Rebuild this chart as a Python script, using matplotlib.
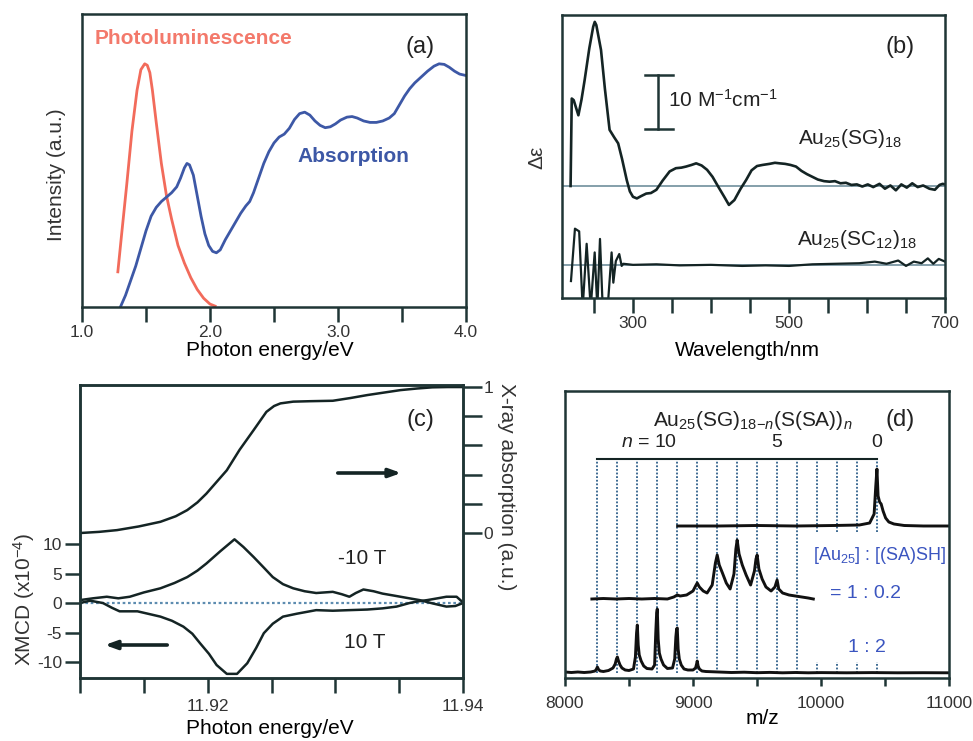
import matplotlib
matplotlib.use("Agg")
import matplotlib.pyplot as plt

plt.rcParams['font.family'] = ['Liberation Sans', 'DejaVu Sans']
plt.rcParams['mathtext.fontset'] = 'custom'
plt.rcParams['mathtext.rm'] = 'Liberation Sans'
plt.rcParams['mathtext.it'] = 'Liberation Sans:italic'
plt.rcParams['mathtext.bf'] = 'Liberation Sans:bold'

NARROW = ['Liberation Sans', 'DejaVu Sans']

# ---------------- Panel (a) data ----------------
pl_ev = [1.28, 1.31, 1.35, 1.39, 1.43, 1.46, 1.49, 1.51, 1.53, 1.55, 1.58, 1.62, 1.66, 1.70, 1.75, 1.80,
         1.85, 1.90, 1.95, 2.00, 2.04]
pl_int = [0.12, 0.25, 0.42, 0.60, 0.74, 0.81, 0.83, 0.825, 0.80, 0.74, 0.63, 0.49, 0.38, 0.30, 0.21, 0.15,
          0.10, 0.06, 0.03, 0.01, 0.003]

abs_ev = [1.30, 1.34, 1.38, 1.42, 1.46, 1.50, 1.54, 1.58, 1.62, 1.66, 1.70, 1.74, 1.77, 1.80, 1.82, 1.84,
          1.87, 1.90, 1.93, 1.96, 1.99, 2.02, 2.05, 2.08, 2.12, 2.16, 2.20, 2.24, 2.28, 2.31, 2.34, 2.38,
          2.42, 2.46, 2.50, 2.54, 2.58, 2.62, 2.66, 2.70, 2.74, 2.78, 2.82, 2.86, 2.90, 2.94, 2.98, 3.02,
          3.07, 3.11, 3.15, 3.20, 3.25, 3.30, 3.35, 3.40, 3.44, 3.48, 3.52, 3.56, 3.60, 3.65, 3.70, 3.75,
          3.79, 3.83, 3.87, 3.91, 3.95, 4.00]
abs_int = [0.00, 0.04, 0.09, 0.14, 0.20, 0.26, 0.31, 0.34, 0.36, 0.375, 0.39, 0.41, 0.44, 0.475, 0.49, 0.485,
           0.45, 0.38, 0.31, 0.25, 0.21, 0.19, 0.185, 0.195, 0.23, 0.26, 0.29, 0.32, 0.345, 0.36, 0.39, 0.44,
           0.49, 0.53, 0.56, 0.58, 0.59, 0.61, 0.64, 0.66, 0.665, 0.655, 0.635, 0.62, 0.612, 0.615, 0.625, 0.638,
           0.648, 0.65, 0.645, 0.635, 0.63, 0.63, 0.635, 0.645, 0.66, 0.69, 0.72, 0.745, 0.765, 0.785, 0.805, 0.822,
           0.83, 0.828, 0.818, 0.805, 0.795, 0.79]

# ---------------- Panel (b) data ----------------
sg_nm = [220, 221.5, 224, 227, 230, 234, 238, 244, 249, 251, 253, 256, 259, 264, 270, 276, 281, 286, 292, 296, 300,
         305, 310, 317, 323, 330, 338, 347, 355, 362, 368, 375, 381, 388, 395, 402, 410, 417, 423, 430, 438,
         445, 452, 459, 466, 475, 482, 488, 495, 502, 509, 516, 523, 530, 537, 545, 552, 559, 566, 573, 580,
         587, 594, 601, 608, 616, 623, 630, 637, 644, 651, 658, 665, 672, 680, 687, 693, 697, 700]
sg_de = [0.0, 16.2, 15.9, 14.5, 13.1, 16.0, 19.6, 25.5, 29.5, 30.4, 29.8, 27.5, 25.2, 18.0, 10.4, 9.0, 7.9, 5.0,
         1.1, -1.0, -2.0, -2.3, -1.9, -1.4, -1.3, -0.7, 1.0, 2.7, 3.3, 3.4, 3.6, 3.9, 4.2, 3.8, 3.0, 1.7, -0.3,
         -2.0, -3.5, -2.6, -0.5, 1.1, 2.9, 3.7, 3.9, 4.1, 4.3, 4.2, 4.1, 3.9, 3.6, 2.8, 2.2, 1.7, 1.2, 0.9, 0.8,
         0.9, 0.5, 0.6, 0.2, 0.3, -0.1, 0.3, -0.2, 0.4, -0.5, 0.1, -0.8, 0.3, -0.3, 0.5, -0.2, 0.1, -0.5, -0.7,
         0.2, 0.4, 0.3]

sc_nm = [220.5, 225.6, 231, 235.5, 240.6, 245.8, 250.9, 254.3, 257.7, 261.2, 267.5, 272.6, 274.8, 278, 282.4, 285.5,
         287.6, 300, 330, 360, 400, 440, 470, 500, 530, 560, 590, 610, 625, 640, 650, 660, 670, 678, 685, 692, 700]
sc_de = [-3.0, 6.7, 6.2, -8.0, 3.9, -8.0, 2.3, -8.0, 4.8, -8.0, -8.0, 2.3, -3.3, 0.7, 2.0, -0.2,
         0.2, 0.0, 0.1, -0.1, 0.0, -0.2, -0.1, -0.2, 0.1, 0.2, 0.3, 0.6, 0.2, 0.8, -0.2, 0.6, 0.3, 1.2, 0.2, 1.1, 0.6]

# ---------------- Panel (c) data ----------------
xmcd_m10_ev = [11.9100, 11.9110, 11.9121, 11.9130, 11.9139, 11.9150, 11.9163, 11.9174, 11.9184, 11.9192, 11.9199,
               11.9210, 11.9221, 11.9228, 11.9236, 11.9244, 11.9251, 11.9259, 11.9267, 11.9276, 11.9285, 11.9298,
               11.9305, 11.9311, 11.9316, 11.9322, 11.9330, 11.9337, 11.9345, 11.9351, 11.9358, 11.9366, 11.9376,
               11.9387, 11.9394, 11.9400]
xmcd_m10 = [0.5, 0.8, 1.07, 0.8, 1.07, 1.8, 2.5, 3.4, 4.4, 5.5, 6.7,
            8.8, 10.8, 9.5, 7.8, 6.0, 4.4, 3.2, 2.5, 2.0, 1.7, 1.9,
            1.5, 1.07, 1.7, 2.3, 2.0, 1.6, 1.3, 1.07, 0.8, 0.5, -0.05,
            -0.6, -0.5, 0.0]

xmcd_p10_ev = [11.9100, 11.9108, 11.9118, 11.9125, 11.9131, 11.9138, 11.9145, 11.9155, 11.9163, 11.9172, 11.9181,
               11.9188, 11.9194, 11.9201, 11.9207, 11.9215, 11.9223, 11.9231, 11.9238, 11.9244, 11.9251, 11.9259,
               11.9270, 11.9285, 11.9298, 11.9311, 11.9325, 11.9337, 11.9348, 11.9358, 11.9365, 11.9372, 11.9380,
               11.9387, 11.9395, 11.9400]
xmcd_p10 = [0.0, 0.4, 0.0, -0.8, -1.4, -1.4, -1.4, -1.9, -2.3, -3.0, -4.0,
            -5.2, -6.8, -8.6, -10.5, -12.0, -12.0, -10.2, -7.6, -5.1, -3.5, -2.3,
            -1.8, -1.2, -1.3, -1.2, -1.1, -0.9, -0.6, 0.0, 0.3, 0.5, 0.8,
            1.07, 1.07, 0.1]

xas_ev = [11.9100, 11.9115, 11.9129, 11.9146, 11.9163, 11.9175, 11.9184, 11.9192, 11.9199, 11.9207, 11.9215,
          11.9225, 11.9236, 11.9246, 11.9252, 11.9257, 11.9267, 11.9280, 11.9298, 11.9312, 11.9325, 11.9338,
          11.9351, 11.9364, 11.9376, 11.9388, 11.9400]
xas = [0.0, 0.008, 0.02, 0.045, 0.077, 0.115, 0.157, 0.21, 0.27, 0.35, 0.43,
       0.57, 0.705, 0.83, 0.87, 0.888, 0.9, 0.903, 0.906, 0.925, 0.945, 0.962,
       0.979, 0.99, 0.998, 1.0, 1.0]

# ---------------- Panel (d) data ----------------
n_labels = ['$n$ = 10', '5', '0']
n_label_values = [10, 5, 0]
n_values = list(range(0, 15))
mz_n0 = 10437
mz_step = 156

bot_mz = [8000, 8050, 8100, 8150, 8200, 8235, 8246, 8253, 8262, 8275, 8300, 8340, 8375, 8392, 8402, 8409, 8418,
          8430, 8445, 8470, 8500, 8535, 8550, 8559, 8565, 8572, 8580, 8595, 8615, 8640, 8680, 8700, 8709,
          8716, 8721, 8728, 8737, 8750, 8770, 8800, 8840, 8857, 8866, 8872, 8877, 8884, 8893, 8908, 8930,
          8960, 9000, 9020, 9028, 9033, 9040, 9050, 9070, 9100, 9200, 9300, 9400, 9500, 9600, 9700, 9800,
          9900, 10000, 10200, 10400, 10600, 10800, 11000]
bot_int = [1.0, 0.5, 1.0, 0.5, 1.0, 2.0, 4.0, 6.0, 3.5, 2.0, 1.5, 2.5, 5.0, 9.0, 14.0, 16.0, 12.0,
           8.0, 5.0, 3.0, 2.5, 4.0, 16.0, 40.0, 48.0, 28.0, 18.0, 12.0, 7.0, 4.5, 4.0, 8.0, 40.0,
           60.0, 64.0, 34.0, 20.0, 14.0, 8.0, 4.5, 5.0, 14.0, 36.0, 44.0, 45.0, 24.0, 14.0, 8.0, 4.0,
           3.0, 3.0, 5.0, 9.0, 12.0, 7.0, 4.0, 2.0, 1.5, 1.0, 0.5, 0.8, 0.3, 0.6, 0.2, 0.5,
           0.2, 0.4, 0.2, 0.4, 0.2, 0.3, 0.2]

mid_mz = [8210, 8300, 8400, 8500, 8600, 8700, 8800, 8850, 8877, 8900, 8950, 9000, 9020, 9033, 9050, 9080, 9110,
          9150, 9175, 9189, 9205, 9230, 9260, 9290, 9320, 9335, 9345, 9360, 9385, 9415, 9450, 9480, 9492,
          9501, 9515, 9540, 9570, 9610, 9640, 9657, 9670, 9700, 9750, 9800, 9850, 9900, 9940]
mid_int = [0.0, 0.5, 0.0, 0.5, 0.0, 0.5, 0.0, 2.0, 4.0, 3.0, 4.0, 8.0, 13.0, 16.0, 12.0, 8.0, 6.0,
           14.0, 36.0, 44.0, 34.0, 26.0, 16.0, 10.0, 25.0, 50.0, 59.0, 45.0, 34.0, 24.0, 14.0, 28.0, 40.0,
           44.0, 30.0, 20.0, 12.0, 8.0, 12.0, 19.0, 10.0, 6.0, 4.0, 3.0, 2.0, 1.0, 0.0]

top_mz = [8880, 9200, 9500, 9800, 10100, 10300, 10380, 10415, 10428, 10437, 10446, 10458, 10470, 10485, 10505,
          10530, 10570, 10650, 10800, 11000]
top_int = [0.0, 0.0, 0.5, 0.0, 0.5, 1.0, 3.0, 12.0, 40.0, 57.0, 30.0, 24.0, 22.0, 15.0, 8.0, 4.0, 2.0, 0.5, 0.0, 0.0]

# ---------------- figure ----------------
W, H = 973, 741
fig = plt.figure(figsize=(W / 100, H / 100), dpi=100)


def ax_rect(l, t, r, b):
    return [l / W, 1 - b / H, (r - l) / W, (b - t) / H]


def fpt(x, y):
    return (x / W, 1 - y / H)


SPINE = '#1f3535'
LINE = '#142424'


def style_axes(ax):
    for s in ax.spines.values():
        s.set_color(SPINE)
        s.set_linewidth(1.8)
    ax.tick_params(colors=SPINE, width=1.8, length=11, direction='out', labelsize=12.5,
                   labelcolor='#333333', pad=2)


# ---- (a)
ax_a = fig.add_axes(ax_rect(82, 14, 466, 307))
ax_a.plot(pl_ev, pl_int, color='#f26b5b', lw=2.0, solid_joinstyle='round')
ax_a.plot(abs_ev, abs_int, color='#3d58a6', lw=2.0, solid_joinstyle='round')
ax_a.set_xlim(1.0, 4.0)
ax_a.set_ylim(0, 1)
ax_a.set_xticks([1.0, 1.5, 2.0, 2.5, 3.0, 3.5, 4.0])
ax_a.set_xticklabels(['1.0', '', '2.0', '', '3.0', '', '4.0'])
ax_a.set_yticks([])
style_axes(ax_a)
fig.text(*fpt(270, 350), 'Photon energy/eV', ha='center', va='center', fontsize=15)
fig.text(*fpt(57, 175), 'Intensity (a.u.)', ha='center', va='center', rotation=90, fontsize=15,
         color='#333333')
fig.text(*fpt(95, 38), 'Photoluminescence', ha='left', va='center', fontsize=15, color='#f26b5b',
         family=NARROW, fontweight='bold', alpha=0.9)
fig.text(*fpt(297, 157), 'Absorption', ha='left', va='center', fontsize=15, color='#3d58a6',
         family=NARROW, fontweight='bold')
fig.text(*fpt(420, 47), '(a)', ha='center', va='center', fontsize=17, color='#222222')

# ---- (b)
ax_b = fig.add_axes(ax_rect(562, 15, 945, 298))
sg_off = 0.0
sc_off = -14.6
ax_b.axhline(sg_off, color='#6f8f9c', lw=1.2)
ax_b.axhline(sc_off, color='#6f8f9c', lw=1.2)
ax_b.plot(sg_nm, [v + sg_off for v in sg_de], color=LINE, lw=1.9, solid_joinstyle='round')
ax_b.plot(sc_nm, [v + sc_off for v in sc_de], color=LINE, lw=1.6)
ax_b.set_xlim(209, 700)
ax_b.set_ylim(-20.74, 31.67)
ax_b.set_xticks(list(range(250, 701, 50)))
ax_b.set_xticklabels(['300' if t == 300 else '500' if t == 500 else '700' if t == 700 else ''
                      for t in range(250, 701, 50)])
ax_b.set_yticks([])
style_axes(ax_b)
bar_x = 300 + (658 - 633) / 0.78
ax_b.plot([bar_x, bar_x], [10.56, 20.56], color=SPINE, lw=1.8)
ax_b.plot([bar_x - 17, bar_x + 19], [20.56, 20.56], color=SPINE, lw=1.8)
ax_b.plot([bar_x - 17, bar_x + 19], [10.56, 10.56], color=SPINE, lw=1.8)
fig.text(*fpt(668, 100), '10 M$^{\\mathregular{-1}}$cm$^{\\mathregular{-1}}$', ha='left', va='center',
         fontsize=15, color='#222222')
fig.text(*fpt(850, 139), 'Au$_{25}$(SG)$_{18}$', ha='center', va='center', fontsize=15, color='#222222')
fig.text(*fpt(857, 239), 'Au$_{25}$(SC$_{12}$)$_{18}$', ha='center', va='center', fontsize=15,
         color='#222222')
fig.text(*fpt(900, 47), '(b)', ha='center', va='center', fontsize=17, color='#222222')
fig.text(*fpt(747, 350), 'Wavelength/nm', ha='center', va='center', fontsize=15)
fig.text(*fpt(537, 157), 'Δε', ha='center', va='center', rotation=90, fontsize=15, color='#333333')

# ---- (c)
ax_c = fig.add_axes(ax_rect(80, 385, 463, 678))
ax_c.axhline(0, color='#5d8cb0', lw=1.6, ls=(0, (1.2, 1.2)))
ax_c.plot(xmcd_m10_ev, xmcd_m10, color=LINE, lw=1.8)
ax_c.plot(xmcd_p10_ev, xmcd_p10, color=LINE, lw=1.8)
ax_c.set_xlim(11.910, 11.940)
ax_c.set_ylim(-12.7, 36.95)
ax_c.set_xticks([11.910, 11.915, 11.920, 11.925, 11.930, 11.935, 11.940])
ax_c.set_xticklabels(['', '', '11.92', '', '', '', '11.94'])
ax_c.set_yticks([-10, -5, 0, 5, 10])
ax_c.set_yticklabels(['-10', '-5', '0', '5', '10'])
style_axes(ax_c)
ax_c.tick_params(axis='x', pad=4)
ax_c2 = ax_c.twinx()
ax_c2.plot(xas_ev, xas, color=LINE, lw=1.8)
ax_c2.set_ylim(-0.993, 1.014)
ax_c2.set_yticks([0, 0.2, 0.4, 0.6, 0.8, 1.0])
ax_c2.set_yticklabels(['0', '', '', '', '', '1'])
style_axes(ax_c2)
ax_c2.tick_params(axis='y', length=14, pad=1)
fig.text(*fpt(270, 728), 'Photon energy/eV', ha='center', va='center', fontsize=15)
fig.text(*fpt(24, 600), 'XMCD (x10$^{\\mathregular{-4}}$)', ha='center', va='center', rotation=90,
         fontsize=15, color='#333333')
fig.text(*fpt(507, 487), 'X-ray absorption (a.u.)', ha='center', va='center', rotation=270,
         fontsize=15, color='#333333')
fig.text(*fpt(420, 420), '(c)', ha='center', va='center', fontsize=17, color='#222222')
fig.text(*fpt(362, 558), '-10 T', ha='center', va='center', fontsize=15, color='#222222')
fig.text(*fpt(365, 642), '10 T', ha='center', va='center', fontsize=15, color='#222222')
arrow_kw = dict(arrowstyle='-|>,head_length=0.5,head_width=0.18', color=LINE, lw=2.6)
fig.add_artist(matplotlib.patches.FancyArrowPatch(fpt(335, 473), fpt(404, 473),
                                                  transform=fig.transFigure, mutation_scale=14, **arrow_kw))
fig.add_artist(matplotlib.patches.FancyArrowPatch(fpt(170, 645), fpt(102, 645),
                                                  transform=fig.transFigure, mutation_scale=14, **arrow_kw))

# ---- (d)
ax_d = fig.add_axes(ax_rect(565, 391, 949, 678))
bot_base, mid_base, top_base, conn_y = 5, 79, 152, 219
stub_top = 16
DOT = '#2e5f8a'
for n in n_values:
    mz = mz_n0 - mz_step * n
    if n >= 4:
        ax_d.plot([mz, mz], [bot_base, conn_y], color=DOT, lw=1.3, ls=(0, (1.0, 1.0)))
    else:
        ax_d.plot([mz, mz], [top_base - 6, conn_y], color=DOT, lw=1.3, ls=(0, (1.0, 1.0)))
        ax_d.plot([mz, mz], [bot_base, stub_top], color=DOT, lw=1.3, ls=(0, (1.0, 1.0)))
ax_d.plot([mz_n0 - mz_step * 14, mz_n0], [conn_y, conn_y], color=LINE, lw=1.5)
ax_d.plot(bot_mz, [v + bot_base for v in bot_int], color='#111111', lw=2.1, solid_joinstyle='round')
ax_d.plot(mid_mz, [v + mid_base for v in mid_int], color='#111111', lw=2.1, solid_joinstyle='round')
ax_d.plot(top_mz, [v + top_base for v in top_int], color='#111111', lw=2.1, solid_joinstyle='round')
ax_d.set_xlim(8000, 11000)
ax_d.set_ylim(0, 287)
ax_d.set_xticks(list(range(8000, 11001, 500)))
ax_d.set_xticklabels(['8000', '', '9000', '', '10000', '', '11000'])
ax_d.set_yticks([])
style_axes(ax_d)
ax_d.tick_params(axis='x', length=6, pad=7)
for lab, nv in zip(n_labels, n_label_values):
    mz = mz_n0 - mz_step * nv
    ax_d.text(mz, conn_y + 8, lab, ha='right' if nv == 10 else 'center', va='bottom', fontsize=14,
              color='#222222')
fig.text(*fpt(753, 420), 'Au$_{25}$(SG)$_{18\\mathregular{-}n}$(S(SA))$_n$', ha='center', va='center',
         fontsize=15, color='#222222')
fig.text(*fpt(900, 420), '(d)', ha='center', va='center', fontsize=17, color='#222222')
BLUE = '#3b55c0'
fig.text(*fpt(880, 556), '[Au$_{25}$] : [(SA)SH]', ha='center', va='center', fontsize=13, color=BLUE)
fig.text(*fpt(866, 593), '= 1 : 0.2', ha='center', va='center', fontsize=14, color=BLUE)
fig.text(*fpt(867, 647), '1 : 2', ha='center', va='center', fontsize=14, color=BLUE)
fig.text(*fpt(762, 718), 'm/z', ha='center', va='center', fontsize=15)

fig.savefig('out.png', dpi=100)
